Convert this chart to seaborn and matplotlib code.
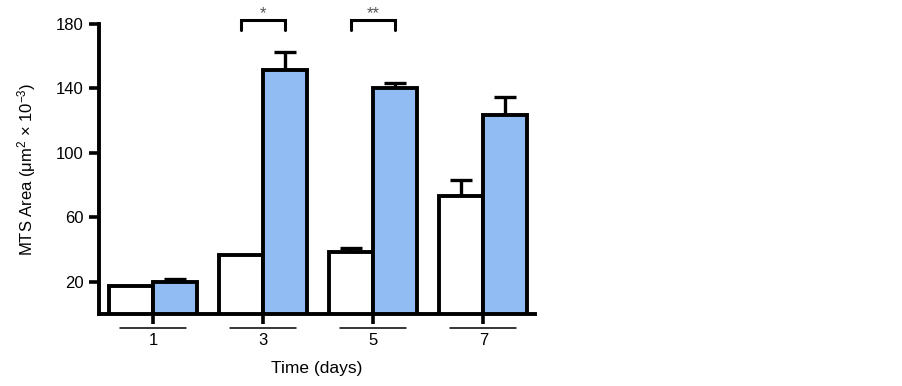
import matplotlib
matplotlib.use("Agg")
import matplotlib.pyplot as plt
import seaborn as sns
import pandas as pd
import numpy as np

days = ["1", "3", "5", "7"]
groups = ["Control", "Treated"]
control_mean = [17.4, 36.6, 38.4, 73.2]
control_err = [0.0, 0.0, 2.5, 9.9]
treated_mean = [19.8, 151.3, 140.2, 123.4]
treated_err = [1.9, 11.2, 3.1, 11.2]
sig_days = ["3", "5"]
sig_labels = ["*", "**"]
yticks = [20, 60, 100, 140, 180]

sns.set_theme(style="white")
plt.rcParams['font.family'] = ['Liberation Sans', 'DejaVu Sans']
plt.rcParams['text.color'] = 'black'
plt.rcParams['axes.labelcolor'] = 'black'

df = pd.DataFrame({
    "day": days * 2,
    "group": [groups[0]] * 4 + [groups[1]] * 4,
    "area": control_mean + treated_mean,
})

fig = plt.figure(figsize=(9.03, 3.86), dpi=100)
ax = fig.add_axes([99 / 903, 1 - 314 / 386, (535 - 99) / 903, (314 - 24) / 386])

colors = ["#ffffff", "#90bbf3"]
sns.barplot(data=df, x="day", y="area", hue="group", palette=colors,
            saturation=1, edgecolor="black", linewidth=2.8, width=0.8,
            legend=False, ax=ax, errorbar=None, zorder=3)

bar_conts = list(ax.containers)
centers = [[p.get_x() + p.get_width() / 2 for p in c.patches] for c in bar_conts]
errs = [control_err, treated_err]
means = [control_mean, treated_mean]
for gi in range(len(bar_conts)):
    for x, m, e in zip(centers[gi], means[gi], errs[gi]):
        if e > 0:
            ax.errorbar([x], [m], yerr=[[0], [e]], fmt="none", ecolor="black",
                        elinewidth=2.4, capsize=8, capthick=2.4, zorder=2)

# significance brackets
white_x, blue_x = centers[0], centers[1]
for d, lab in zip(sig_days, sig_labels):
    i = days.index(d)
    x0, x1 = white_x[i], blue_x[i]
    ax.plot([x0, x0, x1, x1], [176.5, 182.3, 182.3, 176.5], color="black",
            lw=2.2, clip_on=False, solid_joinstyle="miter")
    ax.text((x0 + x1) / 2, 186.5, lab, ha="center", va="center", fontsize=12,
            color="#555555", clip_on=False)

# underlines below categories
trans = ax.get_xaxis_transform()
for i in range(len(days)):
    ax.plot([i - 0.3, i + 0.3], [-0.048, -0.048], color="black", lw=1.1,
            transform=trans, clip_on=False)

ax.set_ylim(0, 180)
ax.set_xlim(-0.49, 3.47)
ax.set_yticks(yticks)
ax.set_yticklabels([str(t) for t in yticks], fontsize=12)
ax.set_xticks(range(len(days)))
ax.set_xticklabels(days, fontsize=12)

for s in ["top", "right"]:
    ax.spines[s].set_visible(False)
for s in ["left", "bottom"]:
    ax.spines[s].set_linewidth(2.8)
    ax.spines[s].set_color("black")
ax.tick_params(axis="y", direction="out", length=7, width=2.6, pad=4,
               left=True, colors="black")
ax.tick_params(axis="x", direction="out", length=7, width=2.6, pad=7,
               bottom=True, colors="black")

ax.set_xlabel("Time (days)", fontsize=12.5, labelpad=9)
ax.set_ylabel(r"MTS Area ($\mathregular{\mu m^2}$ × $\mathregular{10^{-3}}$)",
              fontsize=12, labelpad=13)
ax.grid(False)

fig.savefig("out.png", dpi=100)
